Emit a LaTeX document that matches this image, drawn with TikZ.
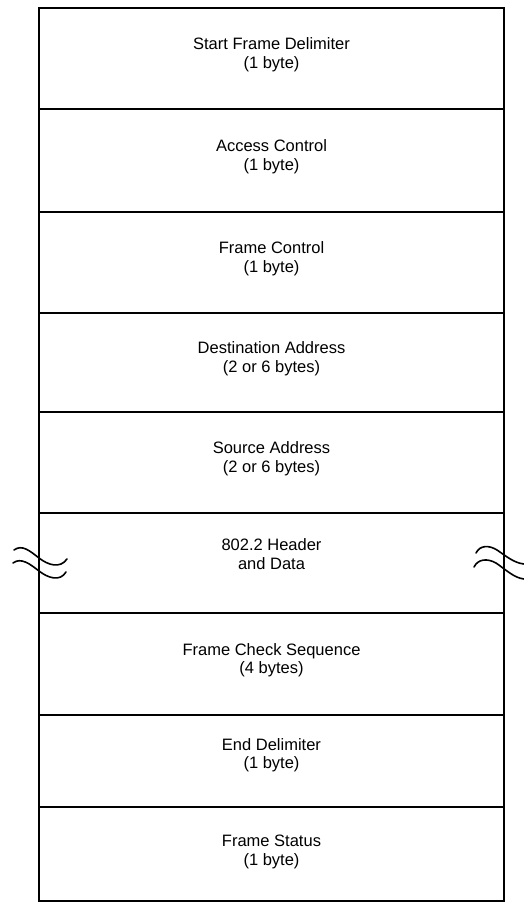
\documentclass[tikz,border=0pt]{standalone}
\usepackage{fontspec}
\setmainfont{Liberation Sans}
\begin{document}
\begin{tikzpicture}[x=1pt,y=-1pt,
  field/.style={draw, line width=1.6pt, minimum width=465pt, inner sep=0pt},
  label/.style={align=center, inner sep=0pt, font=\fontsize{16.5}{18.5}\selectfont},
  wave/.style={line width=1.6pt, line cap=round}]
\useasboundingbox[fill=white] (0,0) rectangle (524,905);
% rows
\node[field, minimum height=101pt] (r1) at (271.5,58.5) {};
\node[field, minimum height=103pt] (r2) at (271.5,160.5) {};
\node[field, minimum height=101pt] (r3) at (271.5,262.5) {};
\node[field, minimum height=99pt]  (r4) at (271.5,362.5) {};
\node[field, minimum height=101pt] (r5) at (271.5,462.5) {};
\node[field, minimum height=100pt] (r6) at (271.5,563) {};
\node[field, minimum height=102pt] (r7) at (271.5,664) {};
\node[field, minimum height=92pt]  (r8) at (271.5,761) {};
\node[field, minimum height=94pt]  (r9) at (271.5,854) {};
% labels
\node[label] (t1) at ([yshift=4pt]r1.center) {Start Frame Delimiter\\(1 byte)};
\node[label] (t2) at ([yshift=4pt]r2.center) {Access Control\\(1 byte)};
\node[label] (t3) at ([yshift=4pt]r3.center) {Frame Control\\(1 byte)};
\node[label] (t4) at ([yshift=4pt]r4.center) {Destination Address\\(2 or 6 bytes)};
\node[label] (t5) at ([yshift=4pt]r5.center) {Source Address\\(2 or 6 bytes)};
\node[label] (t6) at ([yshift=9pt]r6.center) {802.2 Header\\and Data};
\node[label] (t7) at ([yshift=4pt]r7.center) {Frame Check Sequence\\(4 bytes)};
\node[label] (t8) at ([yshift=6pt]r8.center) {End Delimiter\\(1 byte)};
\node[label] (t9) at ([yshift=2pt]r9.center) {Frame Status\\(1 byte)};
% break marks, left
\draw[wave] (14,550) .. controls (22,544) and (30,551) .. (39,558)
            .. controls (48,565) and (60,569) .. (67,559);
\draw[wave] (13,563) .. controls (21,557) and (30,564) .. (39,571)
            .. controls (48,578) and (60,582) .. (66,572);
% break marks, right
\draw[wave] (476,553) .. controls (480,545) and (489,545) .. (497,550)
            .. controls (506,556) and (514,563) .. (524,564);
\draw[wave] (474,567) .. controls (478,559) and (487,558) .. (496,563)
            .. controls (505,569) and (514,578) .. (524,579);
\end{tikzpicture}
\end{document}
